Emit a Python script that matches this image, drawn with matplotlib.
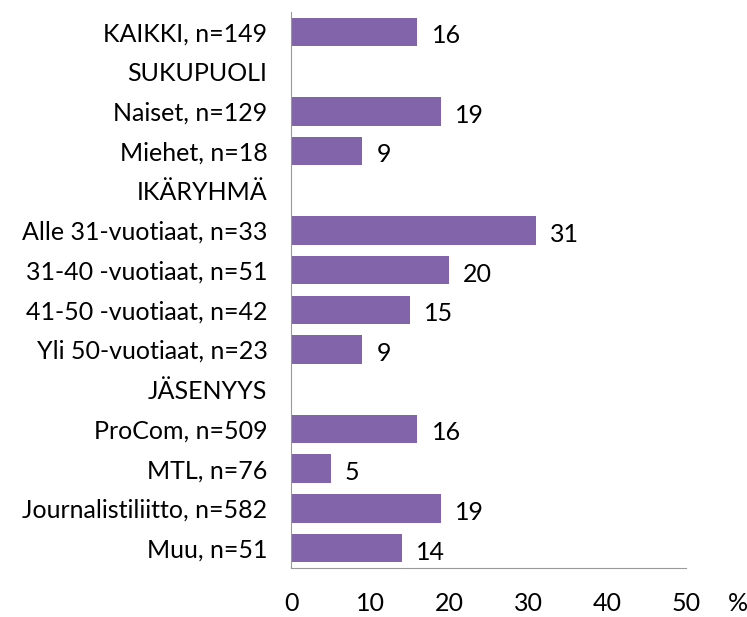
import matplotlib.pyplot as plt
import numpy as np

labels = ['KAIKKI, n=149', 'SUKUPUOLI', 'Naiset, n=129', 'Miehet, n=18',
          'IKÄRYHMÄ', 'Alle 31-vuotiaat, n=33', '31-40 -vuotiaat, n=51',
          '41-50 -vuotiaat, n=42', 'Yli 50-vuotiaat, n=23', 'JÄSENYYS',
          'ProCom, n=509', 'MTL, n=76', 'Journalistiliitto, n=582', 'Muu, n=51']
values = [16, None, 19, 9, None, 31, 20, 15, 9, None, 16, 5, 19, 14]
ticks = [0, 10, 20, 30, 40, 50]

plt.rcParams['font.family'] = ['Lato', 'DejaVu Sans']

fig = plt.figure(figsize=(7.47, 6.17), dpi=100)
ax = fig.add_axes([0.3896, 0.0794, 0.5287, 0.9012])

y = np.arange(len(labels))
for i, v in enumerate(values):
    if v is None:
        continue
    ax.barh(y[i], v, height=0.72, color='#8264AA')
    ax.text(v + 1.8, y[i] + 0.1, str(v), va='center', ha='left', fontsize=18, color='black')

ax.set_ylim(len(labels) - 0.5, -0.5)
ax.set_xlim(0, 50)
ax.set_yticks(y)
ax.set_yticklabels(labels, fontsize=18)
ax.set_xticks(ticks)
ax.set_xticklabels([str(t) for t in ticks], fontsize=18)
ax.tick_params(axis='both', length=0)
ax.tick_params(axis='x', pad=17)
ax.tick_params(axis='y', pad=17)
for s in ['top', 'right']:
    ax.spines[s].set_visible(False)
ax.spines['left'].set_color('#999999')
ax.spines['bottom'].set_color('#999999')
fig.text(0.988, 0.022, '%', fontsize=18, ha='center', va='center')

fig.savefig('out.png', dpi=100)
